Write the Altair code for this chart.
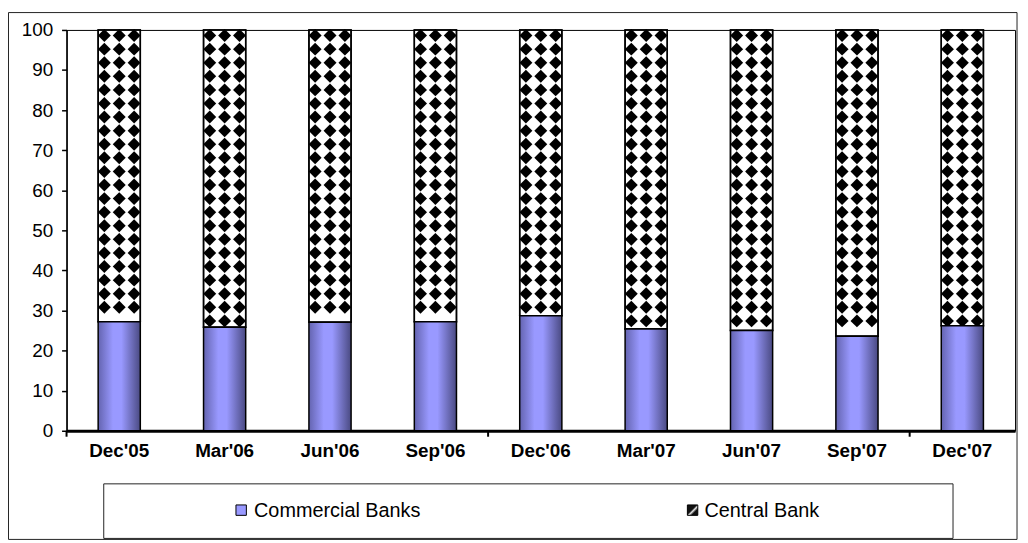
import altair as alt
import pandas as pd

# ---- data ----
categories = ["Dec'05", "Mar'06", "Jun'06", "Sep'06", "Dec'06",
              "Mar'07", "Jun'07", "Sep'07", "Dec'07"]
commercial = [27.2, 25.8, 27.1, 27.2, 28.7, 25.4, 25.0, 23.6, 26.2]
central = [round(100 - c, 1) for c in commercial]
series_names = ["Commercial Banks", "Central Bank"]
y_ticks = list(range(0, 101, 10))
boundary_cats = ["Dec'05", "Dec'06", "Dec'07"]   # Excel draws a tick every 4 categories

FONT = "Liberation Sans"

df = pd.DataFrame({"period": categories, "commercial": commercial, "central": central})
df["total"] = df["commercial"] + df["central"]

# texture rows for the checkered "Central Bank" fill (decoration only)
rows = []
for cat, c, t in zip(categories, commercial, df["total"]):
    v = t - 1.4
    while v - 1.0 > c:
        rows.append({"period": cat, "v": v})
        v -= 3.39
tex = pd.DataFrame(rows)

x_enc = alt.X(
    "period:N", sort=categories,
    scale=alt.Scale(paddingInner=0.6, paddingOuter=0.3),
    axis=alt.Axis(title=None, labelAngle=0, labelFont=FONT, labelFontSize=19,
                  labelFontWeight="bold", labelColor="black", ticks=False,
                  domainColor="black", domainWidth=3, labelPadding=11),
)
y_scale = alt.Scale(domain=[0, 100], nice=False)
y_axis = alt.Axis(values=y_ticks, title=None, grid=False, labelFont=FONT,
                  labelFontSize=19, labelColor="black", tickColor="black",
                  tickSize=5, tickWidth=1.5, domainColor="black",
                  domainWidth=1.5, labelPadding=9)

purple = alt.LinearGradient(
    gradient="linear", x1=0, y1=0, x2=1, y2=0,
    stops=[alt.GradientStop(color="#6464b0", offset=0),
           alt.GradientStop(color="#9999ff", offset=0.35),
           alt.GradientStop(color="#9999ff", offset=0.55),
           alt.GradientStop(color="#4a4a82", offset=1)],
)

base = alt.Chart(df)

central_fill = base.mark_bar(fill="white", stroke="black", strokeWidth=1.5).encode(
    x=x_enc, y=alt.Y("commercial:Q", scale=y_scale, axis=y_axis), y2="total:Q")

diamond_layers = [
    alt.Chart(tex).mark_point(shape="diamond", filled=True, fill="black",
                              opacity=1, size=170, strokeWidth=0, xOffset=off).encode(
        x=alt.X("period:N", sort=categories), y=alt.Y("v:Q", scale=y_scale))
    for off in (-15, 0, 15)
]

central_outline = base.mark_bar(fillOpacity=0, stroke="black", strokeWidth=1.5).encode(
    x=alt.X("period:N", sort=categories), y=alt.Y("commercial:Q", scale=y_scale), y2="total:Q")

commercial_bar = base.mark_bar(fill=purple, stroke="black", strokeWidth=1.5).encode(
    x=alt.X("period:N", sort=categories), y=alt.Y("commercial:Q", scale=y_scale))

ticks = alt.Chart(pd.DataFrame({"period": boundary_cats})).mark_rule(
    color="black", strokeWidth=2, xOffset=-53.1).encode(
    x=alt.X("period:N", sort=categories), y=alt.value(404), y2=alt.value(410))

one = alt.Data(values=[{"k": 0}])
outer_box = alt.Chart(one).mark_rect(fillOpacity=0, stroke="#222", strokeWidth=1).encode(
    x=alt.value(-58.5), x2=alt.value(958), y=alt.value(-17.5), y2=alt.value(513.5))
legend_box = alt.Chart(one).mark_rect(fillOpacity=0, stroke="#222", strokeWidth=1).encode(
    x=alt.value(37.5), x2=alt.value(893.5), y=alt.value(457.5), y2=alt.value(512.5))

dark = alt.LinearGradient(
    gradient="linear", x1=0, y1=0, x2=1, y2=1,
    stops=[alt.GradientStop(color="#111", offset=0),
           alt.GradientStop(color="#111", offset=0.45),
           alt.GradientStop(color="#eee", offset=0.55),
           alt.GradientStop(color="#111", offset=0.7),
           alt.GradientStop(color="#111", offset=1)],
)
leg1_sym = alt.Chart(one).mark_square(size=110, fill="#9999ff", stroke="black",
                                      strokeWidth=1, opacity=1).encode(
    x=alt.value(176), y=alt.value(484))
leg2_sym = alt.Chart(one).mark_square(size=110, fill=dark, stroke="black",
                                      strokeWidth=1, opacity=1).encode(
    x=alt.value(631), y=alt.value(484))
leg1_txt = alt.Chart(pd.DataFrame({"name": [series_names[0]]})).mark_text(
    align="left", baseline="middle", font=FONT, fontSize=20, color="black").encode(
    text="name:N", x=alt.value(189), y=alt.value(485))
leg2_txt = alt.Chart(pd.DataFrame({"name": [series_names[1]]})).mark_text(
    align="left", baseline="middle", font=FONT, fontSize=20, color="black").encode(
    text="name:N", x=alt.value(643), y=alt.value(485))

chart = alt.layer(
    central_fill, *diamond_layers, central_outline, commercial_bar, ticks,
    outer_box, legend_box, leg1_sym, leg2_sym, leg1_txt, leg2_txt,
).properties(
    width=956, height=404, autosize="none",
    padding={"left": 59, "top": 20, "right": 5, "bottom": 110},
    background="white",
).configure_view(stroke="black", strokeWidth=1)

chart.save("out.html", embed_options={"renderer": "svg", "actions": False})
